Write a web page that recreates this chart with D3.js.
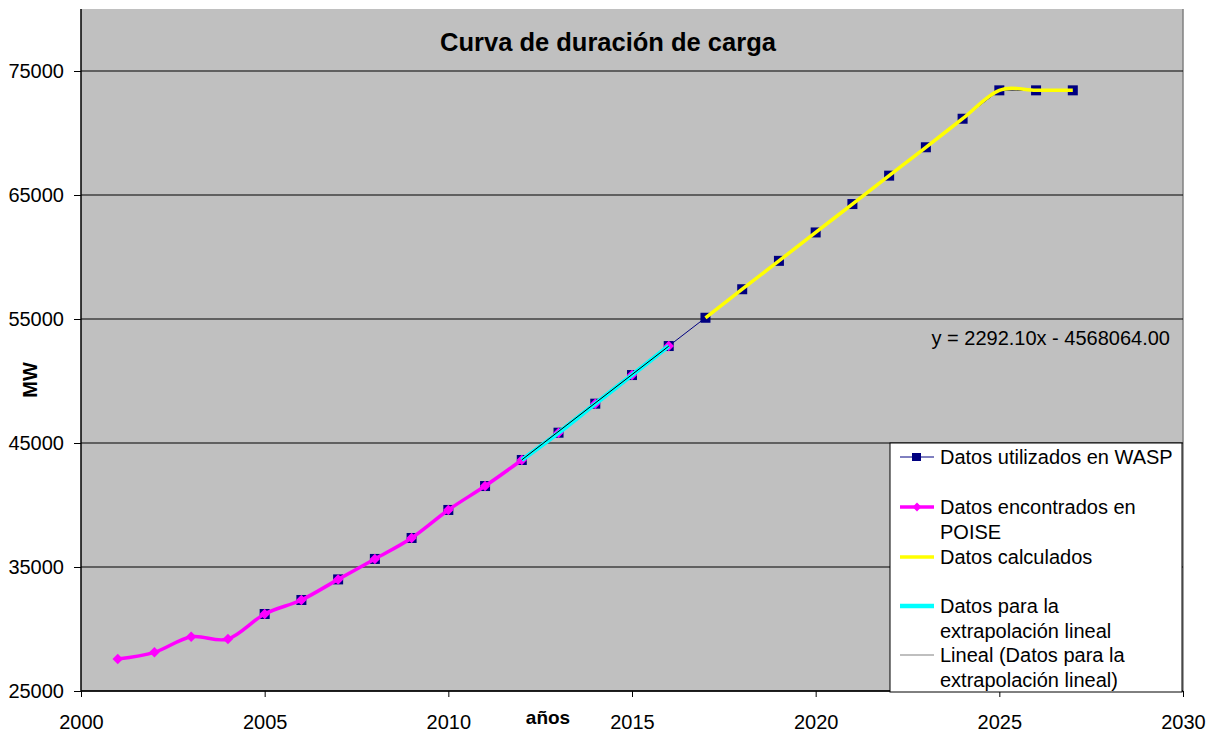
<!DOCTYPE html>
<html>
<head>
<meta charset="utf-8">
<script src="https://cdn.jsdelivr.net/npm/d3@7"></script>
<style>
  body { margin: 0; background: #fff; }
  text { font-family: "Liberation Sans", Arial, sans-serif; }
</style>
</head>
<body>
<script>
// years + MW values
var waspYears = [2005, 2006, 2007, 2008, 2009, 2010, 2011, 2012, 2013, 2014, 2015, 2016,
  2017, 2018, 2019, 2020, 2021, 2022, 2023, 2024, 2025, 2026, 2027];
var waspValues = [31210, 32340, 34000, 35650, 37340, 39600, 41530, 43630, 45830, 48170, 50480, 52820,
  55100, 57400, 59690, 61980, 64270, 66560, 68850, 71150, 73440, 73440, 73440];

var poiseYears = [2001, 2002, 2003, 2004, 2005, 2006, 2007, 2008, 2009, 2010, 2011, 2012, 2013, 2014, 2015, 2016];
var poiseValues = [27580, 28120, 29380, 29190, 31210, 32340, 34000, 35650, 37340, 39600, 41530, 43630, 45830, 48170, 50480, 52820];

var calcYears = [2017, 2018, 2019, 2020, 2021, 2022, 2023, 2024, 2025, 2026, 2027];
var calcValues = [55100, 57400, 59690, 61980, 64270, 66560, 68850, 71150, 73440, 73440, 73440];

var extraYears = [2012, 2013, 2014, 2015, 2016];
var extraValues = [43630, 45830, 48170, 50480, 52820];

// trendline shown on the chart
var trendSlope = 2292.10, trendIntercept = -4568064.00;

var xTicks = [2000, 2005, 2010, 2015, 2020, 2025, 2030];
var yTicks = [25000, 35000, 45000, 55000, 65000, 75000];

var legendNames = [
  ["Datos utilizados en WASP"],
  ["Datos encontrados en", "POISE"],
  ["Datos calculados"],
  ["Datos para la", "extrapolación lineal"],
  ["Lineal (Datos para la", "extrapolación lineal)"]
];

function zip(xs, ys) {
  return xs.map(function (d, i) { return { x: d, y: ys[i] }; });
}

var W = 1212, H = 733;
var margin = { top: 9, right: 29, bottom: 42, left: 81 };
var w = W - margin.left - margin.right,
  h = H - margin.top - margin.bottom;

var svg = d3.select("body").append("svg")
  .attr("width", W).attr("height", H);

var g = svg.append("g")
  .attr("transform", "translate(" + margin.left + "," + margin.top + ")");

var x = d3.scaleLinear().domain([2000, 2030]).range([0, w]);
var y = d3.scaleLinear().domain([25000, 80000]).range([h, 0]);

// plot background
g.append("rect").attr("width", w).attr("height", h).attr("fill", "#C0C0C0");
g.append("line").attr("x1", w).attr("x2", w).attr("y1", 0).attr("y2", h)
  .attr("stroke", "#808080").attr("stroke-width", 1.5);

// gridlines
g.selectAll("line.grid").data(yTicks).enter().append("line")
  .attr("class", "grid")
  .attr("x1", 0).attr("x2", w)
  .attr("y1", function (d) { return y(d); })
  .attr("y2", function (d) { return y(d); })
  .attr("stroke", "#000").attr("stroke-width", 1);

// axes
var xAxis = d3.axisBottom(x).tickValues(xTicks).tickFormat(d3.format("d")).tickSize(6).tickPadding(18);
var yAxis = d3.axisLeft(y).tickValues(yTicks).tickFormat(d3.format("d")).tickSize(7).tickPadding(10);

var gx = g.append("g").attr("transform", "translate(0," + h + ")").call(xAxis);
var gy = g.append("g").call(yAxis);
[gx, gy].forEach(function (a) {
  a.select(".domain").attr("stroke", "#000").attr("stroke-width", 1.5);
  a.selectAll(".tick line").attr("stroke", "#000");
  a.selectAll(".tick text").attr("font-size", "20px").attr("fill", "#000")
    .style("font-family", "'Liberation Sans', Arial, sans-serif");
});
gy.select(".domain").attr("d", "M0," + h + "V0");
gx.select(".domain").attr("d", "M0,0H" + w);

var smooth = d3.line()
  .x(function (d) { return x(d.x); })
  .y(function (d) { return y(d.y); })
  .curve(d3.curveCatmullRom.alpha(0));
var straight = d3.line()
  .x(function (d) { return x(d.x); })
  .y(function (d) { return y(d.y); });

// WASP series (thin navy line + squares)
var wasp = zip(waspYears, waspValues);
g.append("path").attr("d", straight(wasp)).attr("fill", "none")
  .attr("stroke", "#000080").attr("stroke-width", 1);
g.selectAll("rect.wasp").data(wasp).enter().append("rect")
  .attr("class", "wasp")
  .attr("x", function (d) { return x(d.x) - 5; })
  .attr("y", function (d) { return y(d.y) - 5; })
  .attr("width", 10).attr("height", 10)
  .attr("fill", "#000080");

// POISE series (magenta + diamonds)
var poise = zip(poiseYears, poiseValues);
g.append("path").attr("d", smooth(poise)).attr("fill", "none")
  .attr("stroke", "#FF00FF").attr("stroke-width", 3.5);
var diamond = d3.symbol().type(d3.symbolDiamond2).size(70);
g.selectAll("path.poise").data(poise).enter().append("path")
  .attr("class", "poise")
  .attr("d", diamond)
  .attr("transform", function (d) { return "translate(" + x(d.x) + "," + y(d.y) + ")"; })
  .attr("fill", "#FF00FF");

// calculated
g.append("path").attr("d", smooth(zip(calcYears, calcValues))).attr("fill", "none")
  .attr("stroke", "#FFFF00").attr("stroke-width", 3.5);

// data for extrapolation
g.append("path").attr("d", smooth(zip(extraYears, extraValues))).attr("fill", "none")
  .attr("stroke", "#00FFFF").attr("stroke-width", 4.5);

// trendline
var t0 = extraYears[0], t1 = extraYears[extraYears.length - 1];
g.append("line")
  .attr("x1", x(t0)).attr("y1", y(trendSlope * t0 + trendIntercept))
  .attr("x2", x(t1)).attr("y2", y(trendSlope * t1 + trendIntercept))
  .attr("stroke", "#000").attr("stroke-width", 1);

g.append("text").attr("x", 1170 - margin.left).attr("y", 345 - margin.top)
  .attr("text-anchor", "end").attr("font-size", "20px")
  .text("y = " + trendSlope.toFixed(2) + "x - " + Math.abs(trendIntercept).toFixed(2));

// title and axis labels
svg.append("text").attr("x", 608).attr("y", 51).attr("text-anchor", "middle")
  .attr("font-size", "25.5px").attr("font-weight", "bold").text("Curva de duración de carga");
svg.append("text").attr("x", 548).attr("y", 724).attr("text-anchor", "middle")
  .attr("font-size", "19px").attr("font-weight", "bold").text("años");
svg.append("text").attr("transform", "translate(37,380) rotate(-90)").attr("text-anchor", "middle")
  .attr("font-size", "20px").attr("font-weight", "bold").text("MW");

// legend
var lg = svg.append("g").attr("transform", "translate(890,443)");
lg.append("rect").attr("width", 292).attr("height", 249)
  .attr("fill", "#fff").attr("stroke", "#000").attr("stroke-width", 1);
var rowY = [14, 64, 114, 163, 212];
var item = lg.selectAll("g.item").data(legendNames).enter().append("g")
  .attr("class", "item")
  .attr("transform", function (d, i) { return "translate(0," + rowY[i] + ")"; });
item.append("text")
  .attr("x", 50).attr("y", 7).attr("font-size", "20px")
  .selectAll("tspan").data(function (d) { return d; }).enter().append("tspan")
  .attr("x", 50).attr("dy", function (d, i) { return i === 0 ? 0 : 24.5; })
  .text(function (d) { return d; });

var swatch = [
  { c: "#000080", sw: 1 },
  { c: "#FF00FF", sw: 3.5 },
  { c: "#FFFF00", sw: 3.5 },
  { c: "#00FFFF", sw: 4.5 },
  { c: "#808080", sw: 1.2 }
];
item.append("line").attr("x1", 10).attr("x2", 44).attr("y1", 0).attr("y2", 0)
  .attr("stroke", function (d, i) { return swatch[i].c; })
  .attr("stroke-width", function (d, i) { return swatch[i].sw; });
lg.append("rect").attr("x", 22).attr("y", rowY[0] - 4).attr("width", 9).attr("height", 8).attr("fill", "#000080");
lg.append("path").attr("d", d3.symbol().type(d3.symbolDiamond2).size(50))
  .attr("transform", "translate(27," + rowY[1] + ")").attr("fill", "#FF00FF");
</script>
</body>
</html>
